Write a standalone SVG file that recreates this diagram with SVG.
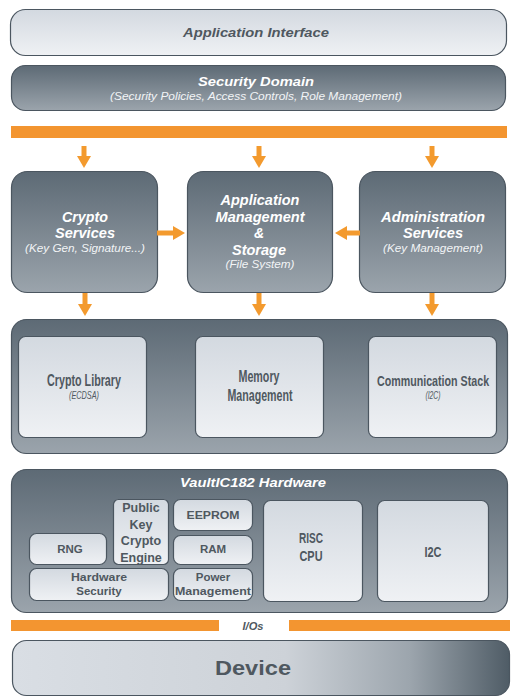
<svg xmlns="http://www.w3.org/2000/svg" width="523" height="700" viewBox="0 0 523 700">
<defs>
<linearGradient id="dark" x1="0" y1="0" x2="0" y2="1"><stop offset="0" stop-color="#5d6a75"/><stop offset="1" stop-color="#9ba4ac"/></linearGradient>
<linearGradient id="light" x1="0" y1="0" x2="0" y2="1"><stop offset="0" stop-color="#d3d9e0"/><stop offset="1" stop-color="#eff1f4"/></linearGradient>
<linearGradient id="dev" x1="0" y1="0" x2="1" y2="0"><stop offset="0" stop-color="#d9dee4"/><stop offset="0.55" stop-color="#cdd2d8"/><stop offset="0.8" stop-color="#9ca5ad"/><stop offset="1" stop-color="#4f5c66"/></linearGradient>
<marker id="ah" markerUnits="userSpaceOnUse" markerWidth="14" markerHeight="14" viewBox="0 0 14 14" refX="2" refY="7" orient="auto"><path d="M0,0 L12,7 L0,14 Z" fill="#f39a2e"/></marker>
<style>
.dk{fill:url(#dark);stroke:#4b5660;stroke-width:1.2}
.lt{fill:url(#light);stroke:#4b5660;stroke-width:1.2}
.wt{font-family:"Liberation Sans",Arial,sans-serif;font-weight:bold;font-style:italic;fill:#ffffff;text-anchor:middle}
.ws{font-family:"Liberation Sans",Arial,sans-serif;font-style:italic;fill:#f2f4f6;text-anchor:middle;font-size:11px}
.dt{font-family:"Liberation Sans",Arial,sans-serif;font-weight:bold;fill:#4f5860;text-anchor:middle}
.nt{font-family:"Liberation Sans Narrow","Liberation Sans",Arial,sans-serif;font-weight:bold;fill:#4f5860;text-anchor:middle}
.ns{font-family:"Liberation Sans Narrow","Liberation Sans",Arial,sans-serif;font-style:italic;fill:#4f5860;text-anchor:middle;font-size:10.5px}
.arr{stroke:#f39a2e;stroke-width:5;fill:none;marker-end:url(#ah)}
.bar{fill:#f39530}
</style>
</defs>

<g id="app-interface">
<rect class="lt" x="10.5" y="9.5" width="496" height="46" rx="15"/>
<text class="dt" x="256" y="37" font-size="13" font-style="italic" fill="#565e66" textLength="146" lengthAdjust="spacingAndGlyphs">Application Interface</text>
</g>

<g id="security-domain">
<rect class="dk" x="11.5" y="65.5" width="494" height="45" rx="14"/>
<text class="wt" x="256" y="86" font-size="13.5" textLength="116" lengthAdjust="spacingAndGlyphs">Security Domain</text>
<text class="ws" x="256" y="100" textLength="292" lengthAdjust="spacingAndGlyphs">(Security Policies, Access Controls, Role Management)</text>
</g>

<rect id="top-bus" class="bar" x="11" y="126" width="496" height="12"/>

<g id="crypto-services">
<rect class="dk" x="11.5" y="171.5" width="146" height="121" rx="16"/>
<text class="wt" x="85" y="222" font-size="14" textLength="46" lengthAdjust="spacingAndGlyphs">Crypto</text>
<text class="wt" x="85" y="238" font-size="14" textLength="60" lengthAdjust="spacingAndGlyphs">Services</text>
<text class="ws" x="85" y="252" textLength="120" lengthAdjust="spacingAndGlyphs">(Key Gen, Signature...)</text>
</g>

<g id="app-management">
<rect class="dk" x="187.5" y="171.5" width="145" height="121" rx="16"/>
<text class="wt" x="260" y="205" font-size="14" textLength="79" lengthAdjust="spacingAndGlyphs">Application</text>
<text class="wt" x="260" y="222" font-size="14" textLength="89" lengthAdjust="spacingAndGlyphs">Management</text>
<text class="wt" x="259" y="238" font-size="14">&amp;</text>
<text class="wt" x="259" y="255" font-size="14" textLength="54" lengthAdjust="spacingAndGlyphs">Storage</text>
<text class="ws" x="260" y="268" textLength="69" lengthAdjust="spacingAndGlyphs">(File System)</text>
</g>

<g id="admin-services">
<rect class="dk" x="359.5" y="171.5" width="146" height="121" rx="16"/>
<text class="wt" x="433" y="222" font-size="14" textLength="104" lengthAdjust="spacingAndGlyphs">Administration</text>
<text class="wt" x="433" y="238" font-size="14" textLength="60" lengthAdjust="spacingAndGlyphs">Services</text>
<text class="ws" x="433" y="252" textLength="100" lengthAdjust="spacingAndGlyphs">(Key Management)</text>
</g>

<g id="connectors">
<line class="arr" x1="84" y1="146" x2="84" y2="158"/>
<line class="arr" x1="259" y1="146" x2="259" y2="158"/>
<line class="arr" x1="432" y1="146" x2="432" y2="158"/>
<line class="arr" x1="157" y1="233" x2="175" y2="233"/>
<line class="arr" x1="360" y1="233" x2="345" y2="233"/>
<line class="arr" x1="85" y1="293" x2="85" y2="306"/>
<line class="arr" x1="259" y1="293" x2="259" y2="306"/>
<line class="arr" x1="432" y1="293" x2="432" y2="306"/>
</g>

<g id="software-layer">
<rect class="dk" x="11.5" y="319.5" width="496" height="134" rx="15"/>
<g id="crypto-library">
<rect class="lt" x="18.5" y="336.5" width="128" height="101" rx="7"/>
<text class="nt" x="84" y="386" font-size="16" textLength="74" lengthAdjust="spacingAndGlyphs">Crypto Library</text>
<text class="ns" x="84" y="399" textLength="30" lengthAdjust="spacingAndGlyphs">(ECDSA)</text>
</g>
<g id="memory-management">
<rect class="lt" x="195.5" y="336.5" width="128" height="101" rx="7"/>
<text class="nt" x="259" y="382" font-size="16" textLength="41" lengthAdjust="spacingAndGlyphs">Memory</text>
<text class="nt" x="260" y="401" font-size="16" textLength="65" lengthAdjust="spacingAndGlyphs">Management</text>
</g>
<g id="communication-stack">
<rect class="lt" x="368.5" y="336.5" width="128" height="101" rx="7"/>
<text class="nt" x="0" y="0" font-size="15.5" transform="translate(433,386) scale(0.69,1)">Communication Stack</text>
<text class="ns" x="433" y="399" textLength="15" lengthAdjust="spacingAndGlyphs">(I2C)</text>
</g>
</g>

<g id="hardware">
<rect class="dk" x="11.5" y="469.5" width="496" height="143" rx="15"/>
<text class="wt" x="253" y="487" font-size="13" textLength="146" lengthAdjust="spacingAndGlyphs">VaultIC182 Hardware</text>
<g id="rng">
<rect class="lt" x="29.5" y="533.5" width="77" height="31" rx="7"/>
<text class="dt" x="70" y="553" font-size="11.5">RNG</text>
</g>
<g id="pkce">
<rect class="lt" x="113.5" y="499.5" width="55" height="65" rx="5"/>
<text class="dt" x="141" y="512" font-size="12.5">Public</text>
<text class="dt" x="141" y="529" font-size="12.5">Key</text>
<text class="dt" x="141" y="545" font-size="12.5">Crypto</text>
<text class="dt" x="141" y="562" font-size="12.5">Engine</text>
</g>
<g id="eeprom">
<rect class="lt" x="173.5" y="499.5" width="79" height="31" rx="7"/>
<text class="dt" x="213" y="519" font-size="11.5" textLength="53" lengthAdjust="spacingAndGlyphs">EEPROM</text>
</g>
<g id="ram">
<rect class="lt" x="173.5" y="535.5" width="79" height="29" rx="7"/>
<text class="dt" x="213" y="553" font-size="11.5">RAM</text>
</g>
<g id="hw-security">
<rect class="lt" x="29.5" y="568.5" width="139" height="32" rx="7"/>
<text class="dt" x="99" y="581" font-size="11.5" textLength="56" lengthAdjust="spacingAndGlyphs">Hardware</text>
<text class="dt" x="99" y="595" font-size="11.5">Security</text>
</g>
<g id="power-management">
<rect class="lt" x="173.5" y="568.5" width="79" height="32" rx="7"/>
<text class="dt" x="213" y="581" font-size="11.5">Power</text>
<text class="dt" x="213" y="595" font-size="11.5" textLength="76" lengthAdjust="spacingAndGlyphs">Management</text>
</g>
<g id="risc-cpu">
<rect class="lt" x="263.5" y="500.5" width="99" height="101" rx="7"/>
<text class="nt" x="311" y="543" font-size="15" textLength="24" lengthAdjust="spacingAndGlyphs">RISC</text>
<text class="nt" x="311" y="561" font-size="15" textLength="23" lengthAdjust="spacingAndGlyphs">CPU</text>
</g>
<g id="i2c">
<rect class="lt" x="377.5" y="500.5" width="111" height="101" rx="7"/>
<text class="nt" x="433" y="557" font-size="15" textLength="17" lengthAdjust="spacingAndGlyphs">I2C</text>
</g>
</g>

<g id="io-bus">
<rect class="bar" x="11" y="620" width="208" height="11"/>
<rect class="bar" x="289" y="620" width="221" height="11"/>
<text class="dt" x="253" y="630" font-size="11" font-style="italic" fill="#3f474e" textLength="21" lengthAdjust="spacingAndGlyphs">I/Os</text>
</g>

<g id="device">
<rect x="12.5" y="640.5" width="497" height="55" rx="14" fill="url(#dev)" stroke="#4b5660" stroke-width="1.2"/>
<text class="dt" x="253" y="675" font-size="19.5" fill="#525d67" textLength="76" lengthAdjust="spacingAndGlyphs">Device</text>
</g>
</svg>
